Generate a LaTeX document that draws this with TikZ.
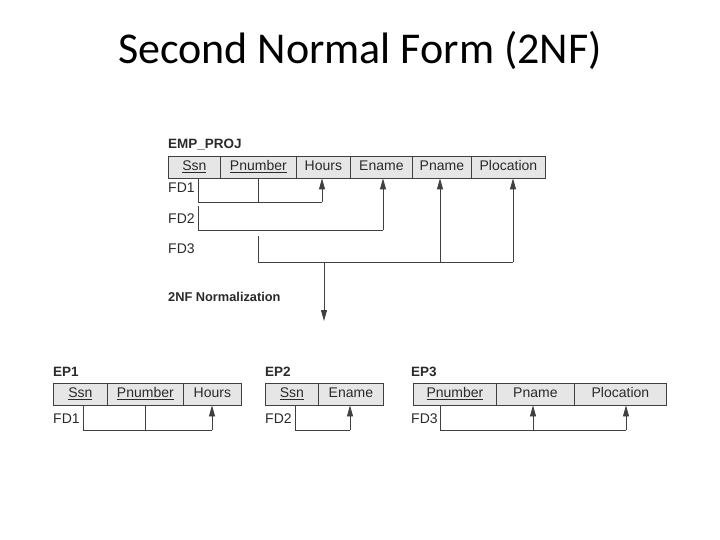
\documentclass[tikz,border=0pt]{standalone}
\usepackage{fontspec}
\setmainfont{Liberation Sans}
\newfontfamily\titlefont{Carlito}
\usetikzlibrary{arrows.meta}
\definecolor{linec}{HTML}{404040}
\definecolor{textc}{HTML}{2A2A2A}
\definecolor{cellfill}{HTML}{E6E6E6}
\begin{document}
\begin{tikzpicture}[x=1pt,y=-1pt,
  cell/.style={draw=linec, fill=cellfill, line width=0.8pt, inner sep=0pt,
    minimum height=22pt, text height=10.5pt, text depth=3pt, anchor=west,
    text=textc, font=\fontsize{14}{16}\selectfont},
  lbl/.style={anchor=base west, inner sep=0pt, text=textc, font=\fontsize{14}{16}\selectfont},
  blbl/.style={anchor=base west, inner sep=0pt, text=textc, font=\fontsize{13.5}{16}\selectfont\bfseries},
  fd/.style={draw=linec, line width=0.8pt},
  fdarrow/.style={fd, -{Triangle[length=11pt,width=6pt]}}]
\useasboundingbox (0,0) rectangle (720,540);
\node[anchor=base, inner sep=0pt, font=\titlefont\fontsize{44}{50}\selectfont] (title) at (360,64) {Second Normal Form (2NF)};

% EMP_PROJ
\node[blbl] (lemp) at (168,149) {EMP\_PROJ};
\node[cell, minimum width=52pt] (e1) at (168,167) {\underline{Ssn}};
\node[cell, minimum width=76pt] (e2) at (220,167) {\underline{Pnumber}};
\node[cell, minimum width=54pt] (e3) at (296,167) {Hours};
\node[cell, minimum width=62pt] (e4) at (350,167) {Ename};
\node[cell, minimum width=59pt] (e5) at (412,167) {Pname};
\node[cell, minimum width=74pt] (e6) at (471,167) {Plocation};
\node[lbl] (efd1) at (168,193) {FD1};
\node[lbl] (efd2) at (168,223) {FD2};
\node[lbl] (efd3) at (168,253) {FD3};

\coordinate (f1a) at (198,202);
\coordinate (f1b) at (258,202);
\coordinate (f1c) at (322,202);
\draw[fd] (f1a |- e1.south) -- (f1a) -- (f1c);
\draw[fd] (f1b |- e2.south) -- (f1b);
\draw[fdarrow] (f1c) -- (f1c |- e3.south);

\coordinate (f2t) at (198,206);
\coordinate (f2a) at (198,230);
\coordinate (f2c) at (383,230);
\draw[fd] (f2t) -- (f2a) -- (f2c);
\draw[fdarrow] (f2c) -- (f2c |- e4.south);

\coordinate (f3t) at (258,236);
\coordinate (f3a) at (258,262);
\coordinate (f3b) at (440,262);
\coordinate (f3c) at (513,262);
\draw[fd] (f3t) -- (f3a) -- (f3c);
\draw[fdarrow] (f3b) -- (f3b |- e5.south);
\draw[fdarrow] (f3c) -- (f3c |- e6.south);

% normalization arrow
\coordinate (nrm) at (324,321);
\draw[fdarrow] (nrm |- f3a) -- (nrm);
\node[blbl, font=\fontsize{12.8}{16}\selectfont\bfseries] (lnorm) at (168,301) {2NF Normalization};

% EP1
\node[blbl] (lep1) at (53,376) {EP1};
\node[cell, minimum width=54pt] (a1) at (53,394) {\underline{Ssn}};
\node[cell, minimum width=76pt] (a2) at (107,394) {\underline{Pnumber}};
\node[cell, minimum width=58pt] (a3) at (183,394) {Hours};
\node[lbl] (afd) at (53,423) {FD1};
\coordinate (g1a) at (83,430);
\coordinate (g1b) at (145,430);
\coordinate (g1c) at (212,430);
\draw[fd] (g1a |- a1.south) -- (g1a) -- (g1c);
\draw[fd] (g1b |- a2.south) -- (g1b);
\draw[fdarrow] (g1c) -- (g1c |- a3.south);

% EP2
\node[blbl] (lep2) at (265,376) {EP2};
\node[cell, minimum width=53pt] (b1) at (265,394) {\underline{Ssn}};
\node[cell, minimum width=65pt] (b2) at (318,394) {Ename};
\node[lbl] (bfd) at (265,423) {FD2};
\coordinate (g2a) at (295,430);
\coordinate (g2c) at (350,430);
\draw[fd] (g2a |- b1.south) -- (g2a) -- (g2c);
\draw[fdarrow] (g2c) -- (g2c |- b2.south);

% EP3
\node[blbl] (lep3) at (411,376) {EP3};
\node[cell, minimum width=83pt] (c1) at (413,394) {\underline{Pnumber}};
\node[cell, minimum width=78pt] (c2) at (496,394) {Pname};
\node[cell, minimum width=92pt] (c3) at (574,394) {Plocation};
\node[lbl] (cfd) at (411,423) {FD3};
\coordinate (g3a) at (440,430);
\coordinate (g3b) at (533,430);
\coordinate (g3c) at (626,430);
\draw[fd] (g3a |- c1.south) -- (g3a) -- (g3c);
\draw[fdarrow] (g3b) -- (g3b |- c2.south);
\draw[fdarrow] (g3c) -- (g3c |- c3.south);
\end{tikzpicture}
\end{document}
